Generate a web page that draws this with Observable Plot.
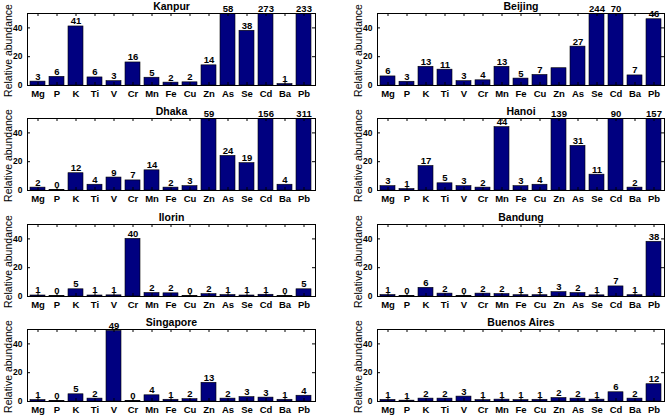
<!DOCTYPE html>
<html><head><meta charset="utf-8">
<script src="https://cdn.jsdelivr.net/npm/d3@7"></script>
<script src="https://cdn.jsdelivr.net/npm/@observablehq/plot@0.6"></script>
<style>
body{margin:0;background:#fff;}
#chart{position:relative;width:669px;height:417px;overflow:hidden;background:#fff;}
.panel{position:absolute;}
</style></head><body><div id="chart"></div>
<script>
const elements = ["Mg","P","K","Ti","V","Cr","Mn","Fe","Cu","Zn","As","Se","Cd","Ba","Pb"];
const cities = ["Kanpur","Beijing","Dhaka","Hanoi","Ilorin","Bandung","Singapore","Buenos Aires"];
const kanpur      = [2.7, 6, 41, 5.6, 3, 16, 5.4, 2, 2.2, 14, 58, 38, 273, 1, 233];
const beijing     = [6.3, 2.6, 13, 11, 3, 3.6, 13, 4.8, 7.3, 12, 27, 244, 70, 7, 46];
const dhaka       = [2, 0.4, 12, 4, 9, 7, 14, 2, 3, 59, 24, 19, 156, 4, 311];
const hanoi       = [3, 1, 17, 5, 3, 2, 44, 3, 4, 139, 31, 11, 90, 2, 157];
const ilorin      = [0.7, 0.3, 5, 0.7, 0.8, 40, 2.4, 2.2, 0.3, 1.6, 1, 0.7, 1.2, 0.3, 5];
const bandung     = [1, 0.4, 6, 2, 0.4, 2, 1.7, 0.9, 0.9, 3, 2.4, 0.8, 7, 0.9, 38];
const singapore   = [1, 0.3, 5, 2, 49, 0.4, 4.3, 1.2, 1.6, 13, 2, 3, 2.7, 1.2, 4];
const buenosAires = [1.1, 0.6, 2, 2, 3.4, 1, 1.3, 1, 1.2, 2.4, 2, 1.3, 6.4, 2, 12];
const cityValues = [kanpur, beijing, dhaka, hanoi, ilorin, bandung, singapore, buenosAires];
const unlabeled = [["Beijing", "Zn"]];
const yTicks = [0, 20, 40];
const yMax = 50;
const yLabel = "Relative abundance";

const font = "'Liberation Sans', Arial, Helvetica, sans-serif";
const cols = [{left: 0, width: 334, ml: 27, mr: 19}, {left: 334, width: 335, ml: 43, mr: 5}];
const rowTops = [0, 105, 211, 316];
const H = 105, MT = 13, MB = 20;
const navy = "#000080";

const chart = document.getElementById("chart");
cities.forEach((city, i) => {
  const col = cols[i % 2];
  const top = rowTops[Math.floor(i / 2)];
  const rows = elements.map((el, j) => ({el, v: cityValues[i][j]}));
  const labeled = rows.filter(d => !unlabeled.some(([c, e]) => c === city && e === d.el));
  const fw = col.width - col.ml - col.mr;
  const fh = H - MT - MB;
  const plot = Plot.plot({
    width: col.width, height: H,
    marginLeft: col.ml, marginRight: col.mr, marginTop: MT, marginBottom: MB,
    style: {fontFamily: font, background: "transparent", overflow: "visible", color: "#000"},
    x: {domain: elements, paddingInner: 0.2, paddingOuter: 0.1},
    y: {domain: [0, yMax]},
    marks: [
      Plot.barY(rows, {x: "el", y: "v", fill: navy, stroke: "#000", strokeWidth: 0.6, clip: true}),
      Plot.text(labeled, {x: "el", y: d => Math.min(d.v, yMax), text: d => String(Math.round(d.v)),
        dy: -2, lineAnchor: "bottom", fontSize: 9.5, fontWeight: "bold", fill: "#000"}),
      Plot.frame({stroke: "#000", strokeWidth: 1}),
      Plot.ruleY(yTicks, {y: d => d, insetRight: fw - 3, stroke: "#000"}),
      Plot.ruleY(yTicks, {y: d => d, insetLeft: fw - 3, stroke: "#000"}),
      Plot.ruleX(elements, {x: d => d, insetBottom: fh - 3, stroke: "#000"}),
      Plot.ruleX(elements, {x: d => d, insetTop: fh - 3, stroke: "#000"}),
      Plot.axisY({ticks: yTicks, tickSize: 0, tickPadding: 5, label: null, fontSize: 8.5, fontWeight: "bold"}),
      Plot.axisX({tickSize: 0, tickPadding: 5, label: null, fontSize: 9.5, fontWeight: "bold"}),
      Plot.text([city], {frameAnchor: "top", dy: -3.5, lineAnchor: "bottom", fontSize: 10.5, fontWeight: "bold", fill: "#000"}),
      Plot.text([yLabel], {frameAnchor: "left", textAnchor: "middle", lineAnchor: "middle", rotate: -90, dx: -19, dy: 1, fontSize: 10.5, fill: "#000"})
    ]
  });
  const div = document.createElement("div");
  div.className = "panel";
  div.style.left = col.left + "px";
  div.style.top = top + "px";
  div.appendChild(plot);
  chart.appendChild(div);
});
</script></body></html>
